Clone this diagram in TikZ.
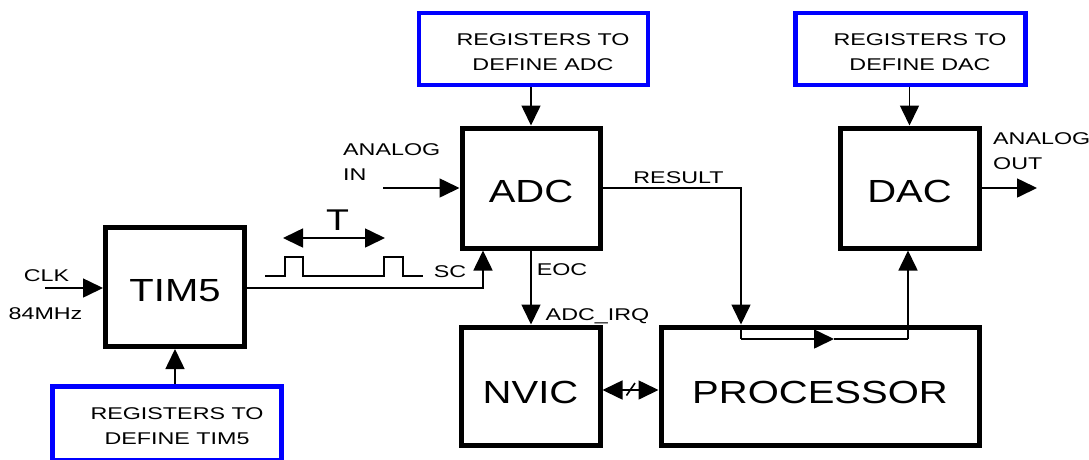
\documentclass[tikz,border=0pt]{standalone}
\usepackage{fontspec}
\setmainfont{Liberation Sans}
\newfontfamily\smallfnt[FakeStretch=1.37]{Liberation Sans}
\newfontfamily\bigfnt[FakeStretch=1.25]{Liberation Sans}
\usetikzlibrary{arrows.meta}
\begin{document}
\begin{tikzpicture}[x=1pt,y=-1pt,
  blk/.style={draw=black, line width=5pt, minimum width=139pt, minimum height=119pt, inner sep=0pt, text height=29pt, text depth=0pt, font=\bigfnt\fontsize{32}{36}\selectfont},
  reg/.style={draw=blue, line width=4.5pt, minimum width=229pt, minimum height=72pt, inner sep=0pt},
  regtxt/.style={font=\smallfnt\fontsize{17}{25}\selectfont, align=center, inner sep=0pt},
  lbl/.style={font=\smallfnt\fontsize{17}{25.5}\selectfont, inner sep=0pt},
  conn/.style={line width=1.6pt},
  arr/.style={conn, -{Triangle[length=20pt,width=19pt]}},
  darr/.style={conn, {Triangle[length=20pt,width=19pt]}-{Triangle[length=20pt,width=19pt]}}
]
\useasboundingbox (0,0) rectangle (1089,459);
\clip (0,0) rectangle (1089,459);
\fill[white] (0,0) rectangle (1089,459);

% main blocks
\node[blk] (tim) at (175,287) {TIM5};
\node[blk, minimum width=138pt, minimum height=120pt] (adc) at (531,188) {ADC};
\node[blk, minimum height=120pt] (dac) at (909.5,188) {DAC};
\node[blk, minimum height=118pt, text height=35pt] (nvic) at (530.5,386) {NVIC};
\node[blk, minimum width=318pt, minimum height=118pt, text height=35pt] (proc) at (820,386) {PROCESSOR};

% register boxes
\node[reg] (radc) at (533.5,49) {};
\node[reg, minimum width=230pt] (rdac) at (910.5,49) {};
\node[reg, minimum height=73.5pt] (rtim) at (167,423.25) {};
\node[regtxt] (tradc) at (543,52.5) {REGISTERS TO\\DEFINE ADC};
\node[regtxt] (trdac) at (920,52.5) {REGISTERS TO\\DEFINE DAC};
\node[regtxt] (trtim) at (177,426.5) {REGISTERS TO\\DEFINE TIM5};

% coordinates
\coordinate (clkin) at (45,288);
\coordinate (ain) at (383,188);
\coordinate (aout) at (1037,188);
\coordinate (sc) at (483,288);
\coordinate (rs) at (741,188);
\coordinate (p1) at (741,339);
\coordinate (pm) at (834,339);
\coordinate (p2) at (908,339);
\coordinate (t1) at (283,238);
\coordinate (t2) at (385,238);

% connectors
\draw[arr] (radc.south -| adc.north) -- (adc.north);
\draw[arr] (rdac.south -| dac.north) -- (dac.north);
\draw[arr] (rtim.north -| tim.south) -- (tim.south);
\draw[arr] (clkin) -- (clkin -| tim.west);
\draw[arr] (ain) -- (adc.west);
\draw[arr] (dac.east) -- (aout);
\draw[arr] (tim.east |- sc) -- (sc) -- (sc |- adc.south);
\draw[arr] (adc.south) -- (adc.south |- nvic.north);
\draw[arr] (adc.east) -- (rs) -- (rs |- proc.north);
\draw[conn] (rs |- proc.north) -- (p1);
\draw[arr] (p1) -- (pm);
\draw[conn] (pm) -- (p2);
\draw[arr] (p2) -- (p2 |- dac.south);
\draw[darr] ([yshift=-4pt]nvic.east) -- ([yshift=-4pt]proc.west);
\draw[conn] (626.5,395.5) -- (635,383);
\draw[darr] (t1) -- (t2);

% clock pulses
\draw[line width=1.5pt] (265,276) -- (285,276) -- (285,257) -- (303,257) -- (303,276)
  -- (384,276) -- (384,257) -- (403,257) -- (403,276) -- (423,276);

% labels
\node[lbl, anchor=base] (lclk) at (46.5,281.5) {CLK};
\node[lbl, anchor=base] (lmhz) at (45.5,319) {84MHz};
\node[lbl, anchor=north west, align=left] (lain) at (343,143) {ANALOG\\IN};
\node[lbl, anchor=north west, align=left] (laout) at (993,132) {ANALOG\\OUT};
\node[lbl, anchor=base] (lres) at (678.5,183.5) {RESULT};
\node[lbl, anchor=base] (leoc) at (562,275) {EOC};
\node[lbl, anchor=base] (lirq) at (597.5,320) {ADC\_IRQ};
\node[lbl, anchor=base] (lsc) at (450,277) {SC};
\node[inner sep=0pt, anchor=base, font=\bigfnt\fontsize{30}{34}\selectfont] (lt) at (337.5,230) {T};
\end{tikzpicture}
\end{document}
